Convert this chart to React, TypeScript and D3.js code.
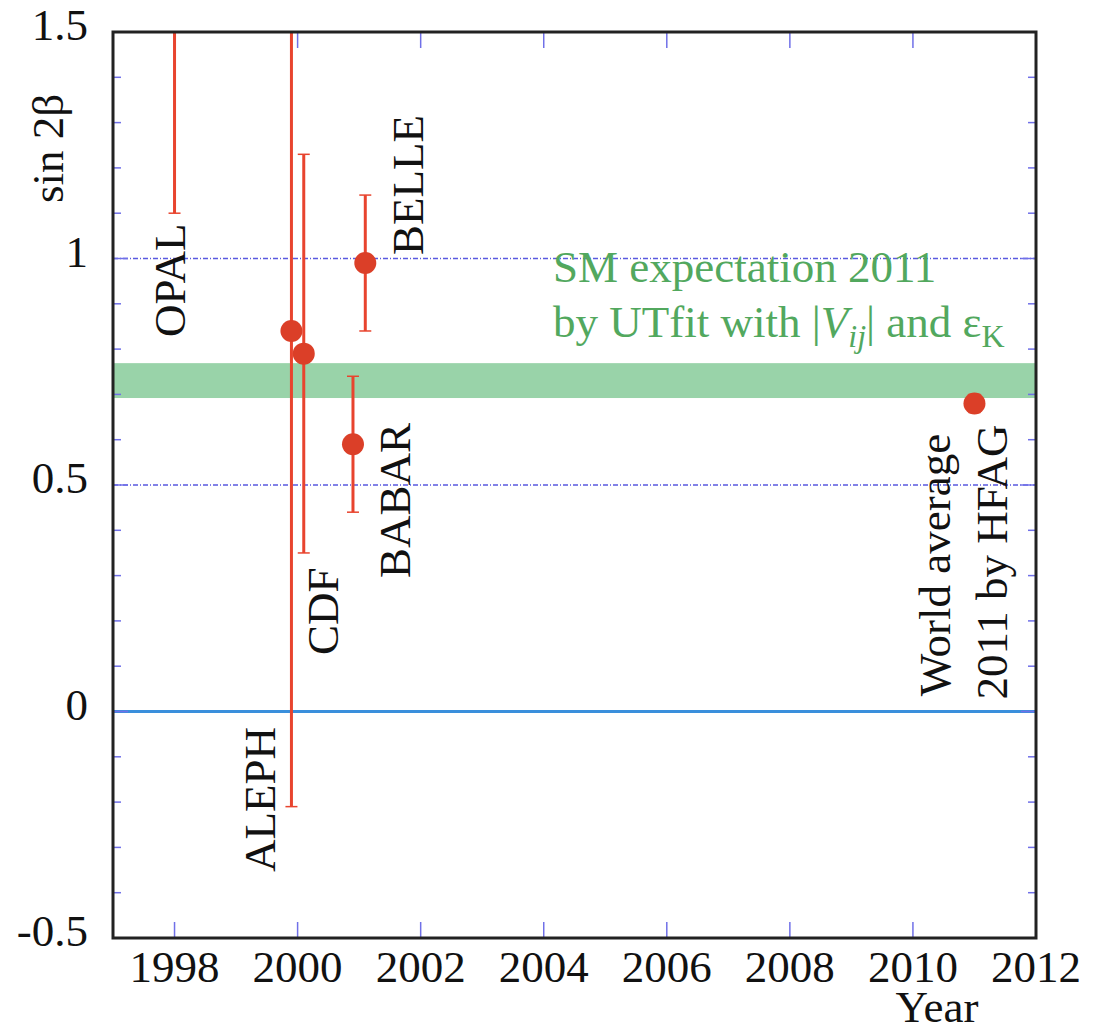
import React from "react";
import * as d3 from "d3";

// Measurements of sin 2β by year
const experiments = ["OPAL", "ALEPH", "CDF", "BABAR", "BELLE", "World average"];
const years = [1998.0, 1999.9, 2000.1, 2000.9, 2001.1, 2011.0];
const values = [3.2, 0.84, 0.79, 0.59, 0.99, 0.68];
const lowerBounds = [1.1, -0.21, 0.35, 0.44, 0.84, 0.66];
const upperBounds = [5.0, 1.66, 1.23, 0.74, 1.14, 0.70];

// SM expectation band (UTfit 2011)
const bandLow = 0.692;
const bandHigh = 0.769;

const xTicks = [1998, 2000, 2002, 2004, 2006, 2008, 2010, 2012];
const yTicks = [-0.5, 0, 0.5, 1, 1.5];
const yTickLabels = ["-0.5", "0", "0.5", "1", "1.5"];
const dottedLevels = [0.5, 1];

const W = 1099;
const H = 1032;
const FONT = "'Liberation Serif', 'DejaVu Serif', serif";

export default function App() {
  const x = d3.scaleLinear().domain([1997, 2012]).range([113, 1036]);
  const y = d3.scaleLinear().domain([-0.5, 1.5]).range([938, 32]);
  const [x0, x1] = x.range();
  const [yb, yt] = y.range();

  const minorY = d3.range(-5, 16).map((k) => k / 10);
  const tickColor = "#7070e8";
  const red = "#e8442e";
  const dotRed = "#db3f28";

  // label placement: baseline x, start y (rotated text)
  const labelPos: Record<string, [number, number]> = {
    OPAL: [185, 337],
    ALEPH: [275, 872],
    CDF: [338, 655],
    BABAR: [410, 578],
    BELLE: [423, 255],
  };

  return (
    <svg
      width={W}
      height={H}
      style={{ position: "absolute", left: 0, top: 0, background: "#fff" }}
      fontFamily={FONT}
    >
      <defs>
        <clipPath id="plotClip">
          <rect x={x0} y={yt} width={x1 - x0} height={yb - yt} />
        </clipPath>
      </defs>

      {/* SM band */}
      <rect
        x={x0}
        y={y(bandHigh)}
        width={x1 - x0}
        height={y(bandLow) - y(bandHigh)}
        fill="#99d3a9"
      />

      {/* reference lines */}
      {dottedLevels.map((v) => (
        <line
          key={v}
          x1={x0}
          x2={x1}
          y1={y(v)}
          y2={y(v)}
          stroke="#5a5ae0"
          strokeWidth={1.3}
          strokeDasharray="5 2 1 2"
        />
      ))}
      <line x1={x0} x2={x1} y1={y(0)} y2={y(0)} stroke="#3a8fdc" strokeWidth={3} />

      {/* ticks */}
      {minorY.map((v) => {
        const major = Math.abs(v * 2 - Math.round(v * 2)) < 1e-6;
        const len = major ? 15 : 8;
        return (
          <g key={v} stroke={tickColor} strokeWidth={1.5}>
            <line x1={x0} x2={x0 + len} y1={y(v)} y2={y(v)} />
            <line x1={x1} x2={x1 - len} y1={y(v)} y2={y(v)} />
          </g>
        );
      })}
      {xTicks.map((t) => (
        <g key={t} stroke={tickColor} strokeWidth={1.5}>
          <line x1={x(t)} x2={x(t)} y1={yb} y2={yb - 16} />
          <line x1={x(t)} x2={x(t)} y1={yt} y2={yt + 16} />
        </g>
      ))}

      {/* error bars and points */}
      <g clipPath="url(#plotClip)">
        {years.map((yr, i) => {
          const cx = x(yr);
          return (
            <g key={experiments[i]}>
              <line
                x1={cx}
                x2={cx}
                y1={y(lowerBounds[i])}
                y2={y(upperBounds[i])}
                stroke={red}
                strokeWidth={3}
              />
              <line x1={cx - 6} x2={cx + 6} y1={y(lowerBounds[i])} y2={y(lowerBounds[i])} stroke={red} strokeWidth={1.5} />
              <line x1={cx - 6} x2={cx + 6} y1={y(upperBounds[i])} y2={y(upperBounds[i])} stroke={red} strokeWidth={1.5} />
              <circle cx={cx} cy={y(values[i])} r={11} fill={dotRed} />
            </g>
          );
        })}
      </g>

      {/* frame */}
      <rect
        x={x0}
        y={yt}
        width={x1 - x0}
        height={yb - yt}
        fill="none"
        stroke="#222"
        strokeWidth={3}
      />

      {/* tick labels */}
      {yTicks.map((v, i) => (
        <text key={v} x={88} y={y(v) + 8} fontSize={45} textAnchor="end" fill="#111">
          {yTickLabels[i]}
        </text>
      ))}
      {xTicks.map((t) => (
        <text key={t} x={x(t)} y={982} fontSize={45} textAnchor="middle" fill="#111">
          {t}
        </text>
      ))}

      {/* axis titles */}
      <text x={937} y={1022} fontSize={45} textAnchor="middle" fill="#111">
        Year
      </text>
      <text transform="translate(63,203) rotate(-90)" fontSize={45} fill="#111">
        sin 2β
      </text>

      {/* experiment labels */}
      {Object.entries(labelPos).map(([name, [lx, ly]]) => (
        <text key={name} transform={`translate(${lx},${ly}) rotate(-90)`} fontSize={45} fill="#111">
          {name}
        </text>
      ))}
      <text transform="translate(950,565) rotate(-90)" fontSize={45} fill="#111" textAnchor="middle">
        World average
      </text>
      <text transform="translate(1007,562) rotate(-90)" fontSize={45} fill="#111" textAnchor="middle">
        2011 by HFAG
      </text>

      {/* SM expectation note */}
      <g fill="#52a85e" fontSize={45}>
        <text x={553} y={282}>SM expectation 2011</text>
        <text x={553} y={337}>
          by UTfit with |<tspan fontStyle="italic">V</tspan>
          <tspan fontStyle="italic" fontSize={32} dy={10}>ij</tspan>
          <tspan dy={-10}>| and ε</tspan>
          <tspan fontSize={32} dy={10}>K</tspan>
        </text>
      </g>
    </svg>
  );
}
